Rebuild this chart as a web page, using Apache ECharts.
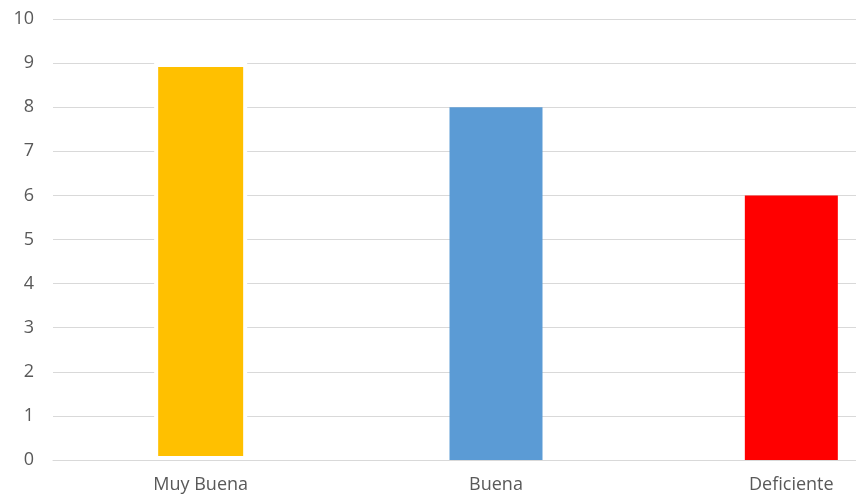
<!DOCTYPE html>
<html>
<head>
<meta charset="utf-8">
<script src="https://cdn.jsdelivr.net/npm/echarts@6/dist/echarts.min.js"></script>
<style>
  html, body { margin: 0; padding: 0; background: #fff; }
  #chart { width: 856px; height: 495px; }
</style>
</head>
<body>
<div id="chart"></div>
<script>
// Ratings and how many responses each got
const categories = ['Muy Buena', 'Buena', 'Deficiente'];
const values = [9, 8, 6];
const yTicks = { min: 0, max: 10, interval: 1 };

// Per-bar palette
const barColors = ['#ffc000', '#5b9bd5', '#ff0000'];
const barBorders = [{ color: '#ffffff', width: 4 }, { color: '#ffffff', width: 0 }, { color: '#ffffff', width: 0 }];

const chart = echarts.init(document.getElementById('chart'), null, { renderer: 'canvas' });

const textStyle = { color: '#595959', fontFamily: 'Open Sans', fontSize: 18 };

chart.setOption({
  animation: false,
  // the plot runs past the right edge of the canvas
  grid: { left: 53, width: 886, top: 19, height: 441, containLabel: false, outerBoundsMode: 'none' },
  xAxis: {
    type: 'category',
    data: categories,
    axisLine: { show: true, lineStyle: { color: '#d9d9d9', width: 1 } },
    axisTick: { show: false },
    axisLabel: Object.assign({ margin: 16 }, textStyle),
    splitLine: { show: false }
  },
  yAxis: {
    type: 'value',
    min: yTicks.min,
    max: yTicks.max,
    interval: yTicks.interval,
    axisLine: { show: false },
    axisTick: { show: false },
    axisLabel: Object.assign({ margin: 19 }, textStyle),
    splitLine: { show: true, lineStyle: { color: '#d9d9d9', width: 1 } }
  },
  series: [{
    type: 'bar',
    barWidth: 93,
    data: values.map((v, i) => ({
      value: v,
      itemStyle: {
        color: barColors[i],
        borderColor: barBorders[i].color,
        borderWidth: barBorders[i].width
      }
    }))
  }]
});
</script>
</body>
</html>
